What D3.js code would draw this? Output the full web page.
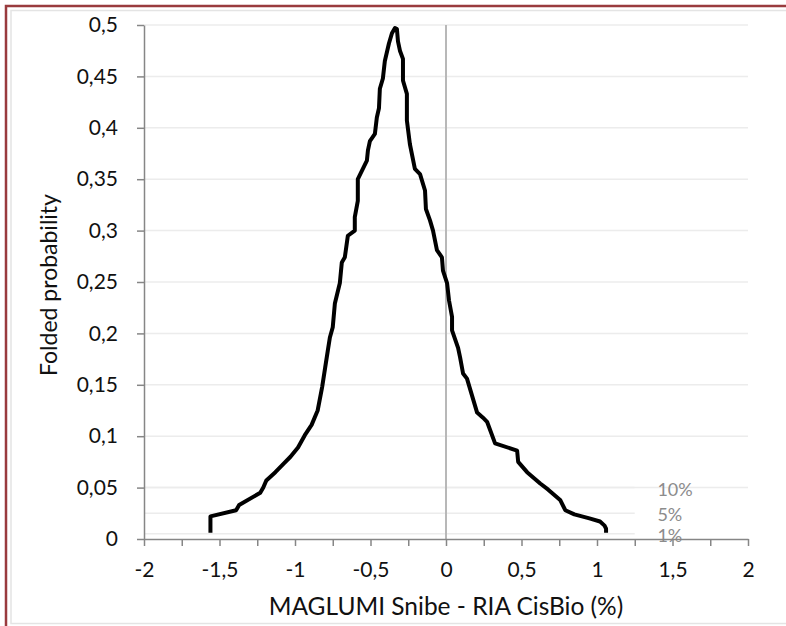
<!DOCTYPE html>
<html>
<head>
<meta charset="utf-8">
<script src="https://cdn.jsdelivr.net/npm/d3@7"></script>
<style>
body { margin: 0; background: #fff; }
svg text { font-family: Lato, "Open Sans", sans-serif; }
</style>
</head>
<body>
<script>
// mountain plot: difference (%) vs folded cumulative probability
var diffValues = [-1.56, -1.56, -1.39, -1.37, -1.23, -1.21, -1.19, -1.13, -1.07, -1.03, -0.98, -0.935, -0.89, -0.85, -0.82, -0.80,
    -0.783, -0.769, -0.75, -0.736, -0.703, -0.69, -0.67, -0.65, -0.604, -0.604, -0.584, -0.584, -0.524, -0.517,
    -0.504, -0.471, -0.458, -0.444, -0.438, -0.418, -0.405, -0.378, -0.358, -0.338,
    -0.325, -0.318, -0.305, -0.285, -0.285, -0.259, -0.259, -0.239, -0.206, -0.172, -0.139, -0.133, -0.106, -0.086,
    -0.06, -0.027, -0.02, 0.007, 0.02, 0.04, 0.04, 0.08, 0.093, 0.113, 0.139, 0.206, 0.245, 0.272, 0.325, 0.471,
    0.478, 0.537, 0.624, 0.677, 0.756, 0.79, 0.85, 0.95, 1.02, 1.05, 1.06, 1.06]
var foldedProb = [0.006, 0.022, 0.028, 0.033, 0.045, 0.050, 0.057, 0.065, 0.074, 0.080, 0.089, 0.101, 0.111, 0.125, 0.148, 0.167,
    0.183, 0.196, 0.206, 0.229, 0.249, 0.269, 0.274, 0.295, 0.300, 0.313, 0.329, 0.350, 0.368, 0.378,
    0.387, 0.394, 0.410, 0.419, 0.438, 0.448, 0.465, 0.482, 0.492, 0.497,
    0.496, 0.484, 0.475, 0.467, 0.446, 0.433, 0.407, 0.384, 0.360, 0.355, 0.339, 0.321, 0.310, 0.300,
    0.281, 0.274, 0.261, 0.249, 0.232, 0.216, 0.203, 0.186, 0.177, 0.161, 0.156, 0.123, 0.118, 0.114, 0.093, 0.086,
    0.075, 0.065, 0.054, 0.048, 0.038, 0.028, 0.024, 0.020, 0.017, 0.013, 0.010, 0.006]

var xTicks = [-2, -1.75, -1.5, -1.25, -1, -0.75, -0.5, -0.25, 0, 0.25, 0.5, 0.75, 1, 1.25, 1.5, 1.75, 2]
var xTickLabels = ['-2', '', '-1,5', '', '-1', '', '-0,5', '', '0', '', '0,5', '', '1', '', '1,5', '', '2']
var yTicks = [0, 0.05, 0.1, 0.15, 0.2, 0.25, 0.3, 0.35, 0.4, 0.45, 0.5]
var yTickLabels = ['0', '0,05', '0,1', '0,15', '0,2', '0,25', '0,3', '0,35', '0,4', '0,45', '0,5']

// significance levels drawn as reference lines
var levelNames = ['10%', '5%', '1%']
var levelValues = [0.05, 0.025, 0.005]
var levelEnd = 1.25

var margin = {left: 144, top: 25, right: 38, bottom: 87}
var width = 786 - margin.left - margin.right
var height = 626 - margin.top - margin.bottom

var x = d3.scaleLinear().domain([-2, 2]).range([0, width])
var y = d3.scaleLinear().domain([0, 0.5]).range([height, 0])

var svg = d3.select('body').append('svg')
    .attr('width', 786)
    .attr('height', 626)

// chart frame
svg.append('rect')
    .attr('x', 11).attr('y', 10.5)
    .attr('width', 800).attr('height', 613)
    .attr('fill', 'none')
    .attr('stroke', '#e4e4e4')
    .attr('stroke-width', 1.5)
svg.append('rect')
    .attr('x', 6).attr('y', 6)
    .attr('width', 800).attr('height', 640)
    .attr('fill', 'none')
    .attr('stroke', '#993b3e')
    .attr('stroke-width', 2.5)

var chart = svg.append('g')
    .attr('transform', 'translate(' + margin.left + ',' + margin.top + ')')

// gridlines
chart.append('g').selectAll('line')
    .data(yTicks.slice(1))
    .enter().append('line')
    .attr('x1', 0).attr('x2', width)
    .attr('y1', function(d){ return y(d) })
    .attr('y2', function(d){ return y(d) })
    .attr('stroke', '#ececec')
    .attr('stroke-width', 1.5)

chart.append('g').selectAll('line')
    .data(levelValues)
    .enter().append('line')
    .attr('x1', 0).attr('x2', x(levelEnd))
    .attr('y1', function(d){ return y(d) })
    .attr('y2', function(d){ return y(d) })
    .attr('stroke', '#ececec')
    .attr('stroke-width', 1.5)

chart.append('g').selectAll('text')
    .data(levelValues)
    .enter().append('text')
    .attr('x', x(1.4))
    .attr('y', function(d){ return y(d) + 8 })
    .attr('fill', '#8c8c8c')
    .attr('font-size', 18)
    .text(function(d, i){ return levelNames[i] })

// zero line
chart.append('line')
    .attr('x1', x(0)).attr('x2', x(0))
    .attr('y1', y(0)).attr('y2', y(0.5))
    .attr('stroke', '#b8b8b8')
    .attr('stroke-width', 2)

// axes
var yAxis = chart.append('g')
    .call(d3.axisLeft(y).tickValues(yTicks).tickSize(7).tickSizeOuter(0).tickPadding(19)
        .tickFormat(function(d, i){ return yTickLabels[i] }))
var xAxis = chart.append('g')
    .attr('transform', 'translate(0,' + height + ')')
    .call(d3.axisBottom(x).tickValues(xTicks).tickSize(7).tickSizeOuter(0).tickPadding(16)
        .tickFormat(function(d, i){ return xTickLabels[i] }))

chart.selectAll('.domain, .tick line')
    .attr('stroke', '#868686')
    .attr('stroke-width', 1.5)
chart.selectAll('.tick text')
    .attr('font-size', 21)
    .attr('font-family', 'Lato, sans-serif')
    .attr('fill', '#111')

// curve
var line = d3.line()
    .x(function(d){ return x(d[0]) })
    .y(function(d){ return y(d[1]) })

chart.append('path')
    .datum(diffValues.map(function(d, i){ return [d, foldedProb[i]] }))
    .attr('d', line)
    .attr('fill', 'none')
    .attr('stroke', '#000')
    .attr('stroke-width', 4)
    .attr('stroke-linejoin', 'round')

// axis titles
svg.append('text')
    .attr('x', margin.left + x(0))
    .attr('y', 615)
    .attr('text-anchor', 'middle')
    .attr('font-size', 24.5)
    .attr('fill', '#111')
    .text('MAGLUMI Snibe - RIA CisBio (%)')

svg.append('text')
    .attr('transform', 'translate(57,285) rotate(-90)')
    .attr('text-anchor', 'middle')
    .attr('font-size', 23)
    .attr('fill', '#111')
    .text('Folded probability')
</script>
</body>
</html>
